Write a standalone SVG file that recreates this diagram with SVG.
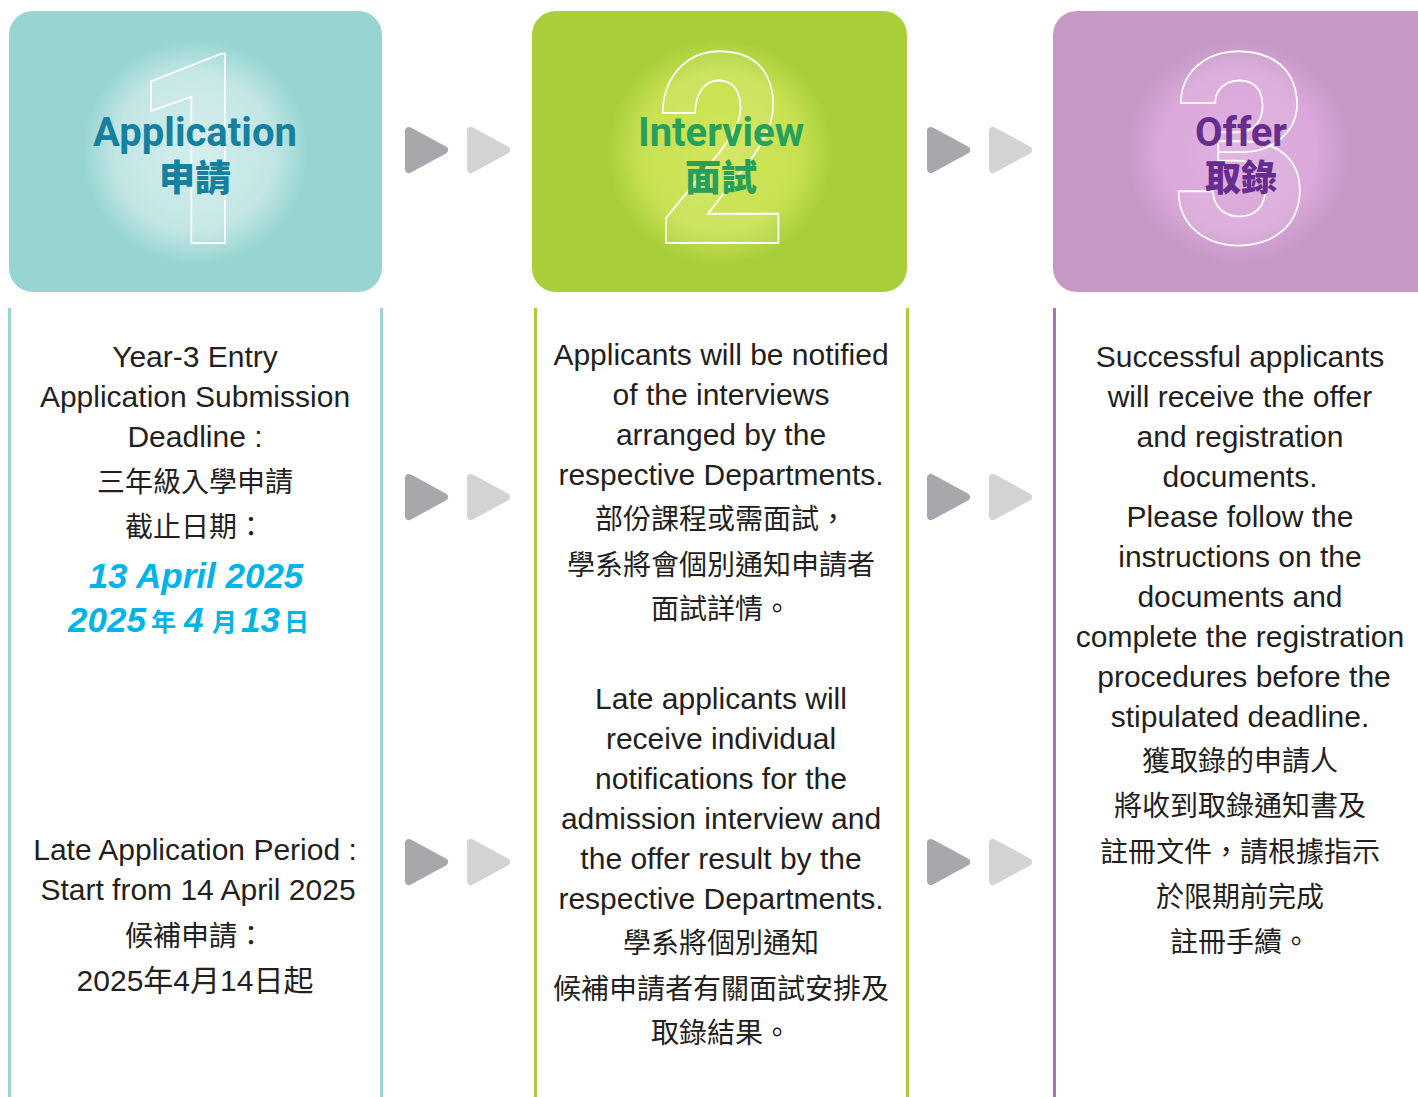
<svg xmlns="http://www.w3.org/2000/svg" width="1418" height="1097" viewBox="0 0 1418 1097">
<style>
.en{font-family:"Liberation Sans",Arial,sans-serif;font-size:30px;fill:#231f20;text-anchor:middle}
.zh{font-family:"Liberation Sans","Noto Sans CJK TC",sans-serif;font-size:28px;fill:#231f20;text-anchor:middle}
.mix{font-family:"Liberation Sans","Noto Sans CJK TC",sans-serif;font-size:30px;fill:#231f20;text-anchor:middle}
.h-en{font-family:Roboto,"Noto Sans",sans-serif;font-weight:700;font-size:40px;text-anchor:middle}
.h-zh{font-family:"Noto Sans CJK TC",sans-serif;font-weight:900;font-size:36px;text-anchor:middle}
.digit{font-family:Roboto,"Liberation Sans",sans-serif;font-weight:700;font-size:266px;fill:#ffffff;fill-opacity:0.08;stroke:#ffffff;stroke-width:1.9;text-anchor:middle}
.date{font-family:"Liberation Sans",Arial,sans-serif;font-weight:700;font-style:italic;font-size:35px;fill:#00b4e8}
.datezh{font-family:"Noto Sans CJK TC",sans-serif;font-weight:700;font-size:25px;fill:#00b4e8}
.vline{stroke-width:3;fill:none}
</style>
<defs>
<radialGradient id="g1" gradientUnits="userSpaceOnUse" cx="195" cy="152" r="112">
<stop offset="0" stop-color="#d3eeec"/><stop offset="0.7" stop-color="#c2e6e4"/><stop offset="1" stop-color="#98d5d2"/>
</radialGradient>
<radialGradient id="g2" gradientUnits="userSpaceOnUse" cx="720" cy="152" r="112">
<stop offset="0" stop-color="#d2e55a"/><stop offset="0.7" stop-color="#c8e152"/><stop offset="1" stop-color="#a8cf3a"/>
</radialGradient>
<radialGradient id="g3" gradientUnits="userSpaceOnUse" cx="1238" cy="152" r="112">
<stop offset="0" stop-color="#dfb0df"/><stop offset="0.7" stop-color="#daa8da"/><stop offset="1" stop-color="#c598c5"/>
</radialGradient>
<polygon id="tri" points="4,5 39,24 4,43" stroke-linejoin="round" stroke-width="8"/>
</defs>
<rect width="1418" height="1097" fill="#ffffff"/>

<g id="node-application">
<rect x="9" y="11" width="373" height="281" rx="24" fill="url(#g1)"/>
<text class="digit" x="14.5" y="243" transform="translate(187 0) scale(0.9 1)">1</text>
<text class="h-en" x="195" y="146" fill="#177fa0">Application</text>
<text class="h-zh" x="195" y="191" fill="#177fa0">申請</text>
</g>

<g id="node-interview">
<rect x="532" y="11" width="375" height="281" rx="24" fill="url(#g2)"/>
<text class="digit" x="0" y="243" transform="translate(721 0) scale(0.87 1)">2</text>
<text class="h-en" x="721" y="146" fill="#26a05a">Interview</text>
<text class="h-zh" x="721" y="191" fill="#26a05a">面試</text>
</g>

<g id="node-offer">
<rect x="1053" y="11" width="400" height="281" rx="24" fill="url(#g3)"/>
<text class="digit" x="3" y="243" transform="translate(1238.5 0) scale(0.92 1)">3</text>
<text class="h-en" x="1241" y="146" fill="#662d8f">Offer</text>
<text class="h-zh" x="1241" y="191" fill="#662d8f">取錄</text>
</g>

<g id="connectors">
<use href="#tri" x="405" y="126" fill="#a7a8ab" stroke="#a7a8ab"/>
<use href="#tri" x="467" y="126" fill="#d1d3d4" stroke="#d1d3d4"/>
<use href="#tri" x="927" y="126" fill="#a7a8ab" stroke="#a7a8ab"/>
<use href="#tri" x="989" y="126" fill="#d1d3d4" stroke="#d1d3d4"/>
<use href="#tri" x="405" y="473" fill="#a7a8ab" stroke="#a7a8ab"/>
<use href="#tri" x="467" y="473" fill="#d1d3d4" stroke="#d1d3d4"/>
<use href="#tri" x="927" y="473" fill="#a7a8ab" stroke="#a7a8ab"/>
<use href="#tri" x="989" y="473" fill="#d1d3d4" stroke="#d1d3d4"/>
<use href="#tri" x="405" y="838" fill="#a7a8ab" stroke="#a7a8ab"/>
<use href="#tri" x="467" y="838" fill="#d1d3d4" stroke="#d1d3d4"/>
<use href="#tri" x="927" y="838" fill="#a7a8ab" stroke="#a7a8ab"/>
<use href="#tri" x="989" y="838" fill="#d1d3d4" stroke="#d1d3d4"/>
</g>

<g id="column-lines">
<line class="vline" x1="9.5" y1="308" x2="9.5" y2="1097" stroke="#98d5d2"/>
<line class="vline" x1="381.5" y1="308" x2="381.5" y2="1097" stroke="#98d5d2"/>
<line class="vline" x1="535.5" y1="308" x2="535.5" y2="1097" stroke="#a8cf3a"/>
<line class="vline" x1="907.5" y1="308" x2="907.5" y2="1097" stroke="#a8cf3a"/>
<line class="vline" x1="1054.5" y1="308" x2="1054.5" y2="1097" stroke="#b26fb6"/>
</g>

<g id="details-application">
<text class="en" x="195" y="367">Year-3 Entry</text>
<text class="en" x="195" y="407">Application Submission</text>
<text class="en" x="195" y="447">Deadline :</text>
<text class="zh" x="195" y="492">三年級入學申請</text>
<text class="zh" x="195" y="537">截止日期：</text>
<text class="date" x="196" y="588" text-anchor="middle">13 April 2025</text>
<text y="632"><tspan class="date" x="68">2025</tspan><tspan class="datezh" x="151" y="631">年</tspan><tspan class="date" x="184" y="632">4</tspan><tspan class="datezh" x="212" y="631">月</tspan><tspan class="date" x="241" y="632">13</tspan><tspan class="datezh" x="284" y="631">日</tspan></text>
<text class="en" x="195" y="860">Late Application Period :</text>
<text class="en" x="198" y="900">Start from 14 April 2025</text>
<text class="zh" x="195" y="946">候補申請：</text>
<text class="mix" x="195" y="991">2025年4月14日起</text>
</g>

<g id="details-interview">
<text class="en" x="721" y="365">Applicants will be notified</text>
<text class="en" x="721" y="405">of the interviews</text>
<text class="en" x="721" y="445">arranged by the</text>
<text class="en" x="721" y="485">respective Departments.</text>
<text class="zh" x="721" y="529">部份課程或需面試，</text>
<text class="zh" x="721" y="575">學系將會個別通知申請者</text>
<text class="zh" x="721" y="619">面試詳情。</text>
<text class="en" x="721" y="709">Late applicants will</text>
<text class="en" x="721" y="749">receive individual</text>
<text class="en" x="721" y="789">notifications for the</text>
<text class="en" x="721" y="829">admission interview and</text>
<text class="en" x="721" y="869">the offer result by the</text>
<text class="en" x="721" y="909">respective Departments.</text>
<text class="zh" x="721" y="953">學系將個別通知</text>
<text class="zh" x="721" y="999">候補申請者有關面試安排及</text>
<text class="zh" x="721" y="1043">取錄結果。</text>
</g>

<g id="details-offer">
<text class="en" x="1240" y="367">Successful applicants</text>
<text class="en" x="1240" y="407">will receive the offer</text>
<text class="en" x="1240" y="447">and registration</text>
<text class="en" x="1240" y="487">documents.</text>
<text class="en" x="1240" y="527">Please follow the</text>
<text class="en" x="1240" y="567">instructions on the</text>
<text class="en" x="1240" y="607">documents and</text>
<text class="en" x="1240" y="647">complete the registration</text>
<text class="en" x="1244" y="687">procedures before the</text>
<text class="en" x="1240" y="727">stipulated deadline.</text>
<text class="zh" x="1240" y="771">獲取錄的申請人</text>
<text class="zh" x="1240" y="816">將收到取錄通知書及</text>
<text class="zh" x="1240" y="862">註冊文件，請根據指示</text>
<text class="zh" x="1240" y="907">於限期前完成</text>
<text class="zh" x="1240" y="952">註冊手續。</text>
</g>
</svg>
